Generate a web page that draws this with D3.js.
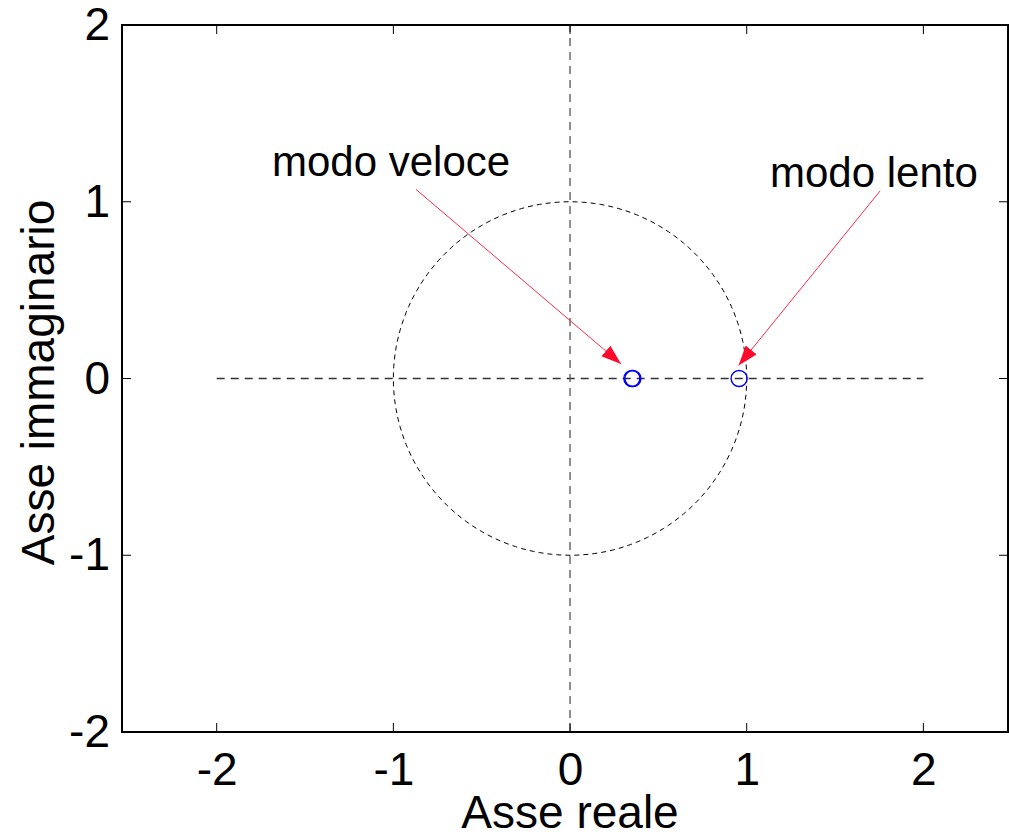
<!DOCTYPE html>
<html>
<head>
<meta charset="utf-8">
<script src="https://cdn.jsdelivr.net/npm/d3@7"></script>
<style>
  html, body { margin: 0; padding: 0; background: #fff; }
  svg { display: block; }
  text { font-family: "Liberation Sans", Arial, sans-serif; fill: #000; }
</style>
</head>
<body>
<svg id="chart" width="1009" height="835"></svg>
<script>
// Axis limits and ticks
const xLimits = [-2.536, 2.479];
const yLimits = [-2, 2];
const xTicks = [-2, -1, 0, 1, 2];
const yTicks = [-2, -1, 0, 1, 2];

// Poles (real part, imaginary part)
const polesFast = [[0.350, 0], [0.356, 0]];
const polesSlow = [[0.957, 0]];

// Reference lines: real axis, imaginary axis, unit circle radius
const realAxis = [[-2, 0], [2, 0]];
const imagAxis = [[0, -2], [0, 2]];
const unitRadius = 1;

// Annotations: label anchor and arrow from/to, in data units
const annLabels = ["modo veloce", "modo lento"];
const annTextPos = [[-1.687, 1.146], [1.132, 1.083]];
const annArrowFrom = [[-0.872, 1.070], [1.755, 1.061]];
const annArrowTo = [[0.289, 0.082], [0.954, 0.074]];

const svg = d3.select("#chart");
const plot = { left: 122, right: 1008, top: 25, bottom: 732 };

const x = d3.scaleLinear().domain(xLimits).range([plot.left, plot.right]);
const y = d3.scaleLinear().domain(yLimits).range([plot.bottom, plot.top]);

const defs = svg.append("defs");
defs.append("marker")
  .attr("id", "arrowHead")
  .attr("viewBox", "0 0 20 14")
  .attr("refX", 20).attr("refY", 7)
  .attr("markerWidth", 20).attr("markerHeight", 14)
  .attr("markerUnits", "userSpaceOnUse")
  .attr("orient", "auto")
  .append("path")
  .attr("d", "M0,0 L20,7 L0,14 Z")
  .attr("fill", "#ff0a2a");

const line = d3.line().x(d => x(d[0])).y(d => y(d[1]));

// dashed real and imaginary axes
svg.append("path").attr("d", line(realAxis))
  .attr("fill", "none").attr("stroke", "#333").attr("stroke-width", 1.3)
  .attr("stroke-dasharray", "8,6");
svg.append("path").attr("d", line(imagAxis))
  .attr("fill", "none").attr("stroke", "#555").attr("stroke-width", 1.3)
  .attr("stroke-dasharray", "8,6");

// unit circle
const circlePts = d3.range(0, 361, 2).map(a => [unitRadius * Math.cos(a * Math.PI / 180), unitRadius * Math.sin(a * Math.PI / 180)]);
svg.append("path").attr("d", line(circlePts))
  .attr("fill", "none").attr("stroke", "#000").attr("stroke-width", 1)
  .attr("stroke-dasharray", "5,4");

// poles
svg.append("g").selectAll("circle")
  .data(polesFast.concat(polesSlow))
  .join("circle")
  .attr("cx", d => x(d[0])).attr("cy", d => y(d[1]))
  .attr("r", 8)
  .attr("fill", "none").attr("stroke", "#0000ff").attr("stroke-width", 1.4);

// frame and inward ticks
const tickLen = 9;
const axes = svg.append("g");
axes.append("g").attr("transform", `translate(0,${plot.bottom})`)
  .call(d3.axisBottom(x).tickValues(xTicks).tickSize(0).tickPadding(20).tickFormat(d3.format("d")));
axes.append("g").attr("transform", `translate(${plot.left},0)`)
  .call(d3.axisLeft(y).tickValues(yTicks).tickSize(0).tickPadding(12).tickFormat(d3.format("d")));
axes.selectAll(".domain").remove();
axes.selectAll("text")
  .style("font-family", "'Liberation Sans', Arial, sans-serif")
  .style("font-size", "46px")
  .attr("fill", "#000");
axes.selectAll("text").each(function() {
  const t = d3.select(this);
  t.text(t.text().replace("\u2212", "-"));
});

const tickG = svg.append("g").attr("stroke", "#000").attr("stroke-width", 1);
xTicks.forEach(v => {
  tickG.append("line").attr("x1", x(v)).attr("x2", x(v)).attr("y1", plot.bottom).attr("y2", plot.bottom - tickLen);
  tickG.append("line").attr("x1", x(v)).attr("x2", x(v)).attr("y1", plot.top).attr("y2", plot.top + tickLen);
});
yTicks.forEach(v => {
  tickG.append("line").attr("y1", y(v)).attr("y2", y(v)).attr("x1", plot.left).attr("x2", plot.left + tickLen);
  tickG.append("line").attr("y1", y(v)).attr("y2", y(v)).attr("x1", plot.right).attr("x2", plot.right - tickLen);
});

svg.append("rect")
  .attr("x", plot.left).attr("y", plot.top)
  .attr("width", plot.right - plot.left).attr("height", plot.bottom - plot.top)
  .attr("fill", "none").attr("stroke", "#000").attr("stroke-width", 2);

// axis titles
svg.append("text")
  .attr("x", x(0)).attr("y", 828)
  .attr("text-anchor", "middle")
  .style("font-size", "46px")
  .text("Asse reale");
svg.append("text")
  .attr("transform", `translate(54,${(plot.top + plot.bottom) / 2 + 4}) rotate(-90)`)
  .attr("text-anchor", "middle")
  .style("font-size", "46px")
  .text("Asse immaginario");

// annotations
annLabels.forEach((lab, i) => {
  svg.append("line")
    .attr("x1", x(annArrowFrom[i][0])).attr("y1", y(annArrowFrom[i][1]))
    .attr("x2", x(annArrowTo[i][0])).attr("y2", y(annArrowTo[i][1]))
    .attr("stroke", "#ff2a4a").attr("stroke-width", 1)
    .attr("marker-end", "url(#arrowHead)");
  svg.append("text")
    .attr("x", x(annTextPos[i][0])).attr("y", y(annTextPos[i][1]))
    .style("font-size", "42px")
    .text(lab);
});
</script>
</body>
</html>
